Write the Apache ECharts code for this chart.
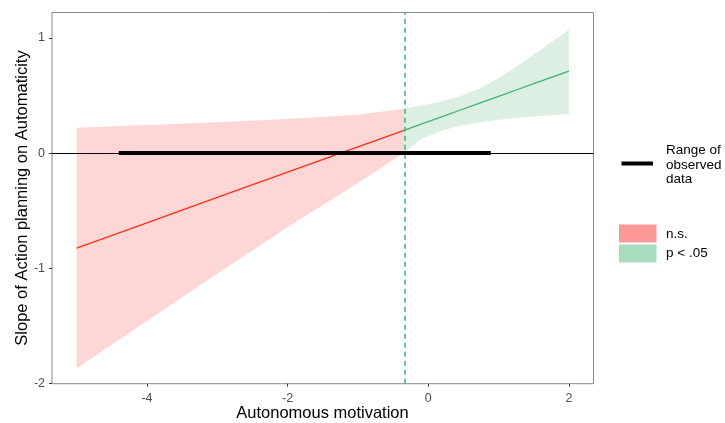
<!DOCTYPE html>
<html>
<head>
<meta charset="utf-8">
<script src="https://cdn.jsdelivr.net/npm/echarts@6/dist/echarts.min.js"></script>
<style>html,body{margin:0;padding:0;background:#fff}#c{width:725px;height:423px}</style>
</head>
<body>
<div id="c"></div>
<script>
// ---- data ----
const xTicks = [-4, -2, 0, 2];
const yTicks = [-2, -1, 0, 1];
const jnPoint = -0.345;               // Johnson-Neyman boundary
const observedRange = [-4.40, 0.89];  // range of observed moderator data

// non-significant region (x < jnPoint)
const nsX     = [-5, -4, -3, -2, -1, -0.345];
const nsEst   = [-0.826, -0.606, -0.386, -0.166, 0.054, 0.197];
const nsUpper = [0.22, 0.243, 0.268, 0.297, 0.333, 0.385];
const nsLower = [-1.87, -1.46, -1.05, -0.645, -0.26, 0.0];

// significant region (x > jnPoint)
const sigX     = [-0.345, -0.12, 0.16, 0.44, 0.73, 1.01, 1.29, 1.57, 2];
const sigEst   = [0.197, 0.247, 0.308, 0.37, 0.434, 0.495, 0.557, 0.618, 0.713];
const sigUpper = [0.385, 0.412, 0.444, 0.492, 0.562, 0.655, 0.765, 0.885, 1.072];
const sigLower = [0.0, 0.115, 0.188, 0.237, 0.266, 0.29, 0.307, 0.32, 0.339];

const xTitle = 'Autonomous motivation';
const yTitle = 'Slope of Action planning on Automaticity';
const legendLabels = ['n.s.', 'p < .05'];
const rangeLabel = 'Range of\nobserved\ndata';

// ---- styles ----
const RED = '#FF2E17', RED_BAND = '#FFD6D6', RED_KEY = '#FF9999';
const GREEN = '#3CB371', GREEN_BAND = '#DCEFE3', GREEN_KEY = '#A9DCBF';
const FONT = '"Liberation Sans", Arial, Helvetica, sans-serif';

function band(xs, up, lo, color) {
  return {
    type: 'custom',
    coordinateSystem: 'cartesian2d',
    silent: true,
    z: 1,
    data: [[xs[0], lo[0]]],
    renderItem: function (params, api) {
      const top = xs.map((x, i) => api.coord([x, up[i]]));
      const bot = xs.map((x, i) => api.coord([x, lo[i]])).reverse();
      return { type: 'polygon', shape: { points: top.concat(bot) }, style: { fill: color } };
    }
  };
}

const chart = echarts.init(document.getElementById('c'), null, { renderer: 'canvas' });
chart.setOption({
  animation: false,
  backgroundColor: '#fff',
  grid: {
    left: 52, right: 131.5, top: 12.5, bottom: 39.3,
    containLabel: false, outerBoundsMode: 'none',
    show: true, borderColor: '#8a8a8a', borderWidth: 1, backgroundColor: 'transparent'
  },
  xAxis: {
    type: 'value', min: -5.35, max: 2.35,
    axisLine: { show: false, onZero: false },
    splitLine: { show: false },
    axisTick: { show: true, length: 3, customValues: xTicks, lineStyle: { color: '#333' } },
    axisLabel: { customValues: xTicks, margin: 8, fontFamily: FONT, fontSize: 12.5, color: '#4D4D4D', formatter: v => String(v) }
  },
  yAxis: {
    type: 'value', min: -2.005, max: 1.222,
    axisLine: { show: false, onZero: false },
    splitLine: { show: false },
    axisTick: { show: true, length: 3, customValues: yTicks, lineStyle: { color: '#333' } },
    axisLabel: { customValues: yTicks, margin: 7, fontFamily: FONT, fontSize: 12.5, color: '#4D4D4D', formatter: v => String(v) }
  },
  series: [
    band(nsX, nsUpper, nsLower, RED_BAND),
    band(sigX, sigUpper, sigLower, GREEN_BAND),
    {
      type: 'line', data: nsX.map((x, i) => [x, nsEst[i]]), showSymbol: false, silent: true, z: 3,
      lineStyle: { color: RED, width: 1.3 }
    },
    {
      type: 'line', data: sigX.map((x, i) => [x, sigEst[i]]), showSymbol: false, silent: true, z: 3,
      lineStyle: { color: GREEN, width: 1.3 }
    },
    {
      type: 'line', data: [], silent: true, z: 4,
      markLine: {
        silent: true, symbol: 'none', label: { show: false }, animation: false,
        lineStyle: { color: '#000', width: 1.1, type: 'solid', opacity: 1 },
        data: [{ yAxis: 0 }]
      }
    },
    {
      type: 'line', data: observedRange.map(x => [x, 0]), showSymbol: false, silent: true, z: 5,
      lineStyle: { color: '#000', width: 4, cap: 'butt' }
    },
    {
      type: 'line', data: [], silent: true, z: 6,
      markLine: {
        silent: true, symbol: 'none', label: { show: false }, animation: false,
        lineStyle: { color: '#3CB371', width: 1.5, type: [5, 4], opacity: 1 },
        emphasis: { disabled: true },
        data: [{ xAxis: jnPoint }]
      }
    }
  ],
  graphic: [
    { type: 'text', x: 322.5, y: 413, style: { text: xTitle, font: '16.5px ' + FONT, fill: '#000', align: 'center', verticalAlign: 'middle' } },
    { type: 'text', x: 22, y: 198, rotation: Math.PI / 2, style: { text: yTitle, font: '16.5px ' + FONT, fill: '#000', align: 'center', verticalAlign: 'middle' } },
    { type: 'line', shape: { x1: 621.5, y1: 163.5, x2: 653, y2: 163.5 }, style: { stroke: '#000', lineWidth: 4 } },
    { type: 'text', left: 666, top: 143, style: { text: rangeLabel, font: '13.5px ' + FONT, fill: '#000', lineHeight: 14.7 } },
    { type: 'rect', shape: { x: 619, y: 224.5, width: 37.5, height: 18 }, style: { fill: RED_KEY } },
    { type: 'rect', shape: { x: 619, y: 244.5, width: 37.5, height: 18 }, style: { fill: GREEN_KEY } },
    { type: 'text', left: 666, top: 227, style: { text: legendLabels[0], font: '13.5px ' + FONT, fill: '#000' } },
    { type: 'text', left: 666, top: 246, style: { text: legendLabels[1], font: '13.5px ' + FONT, fill: '#000' } }
  ]
});
</script>
</body>
</html>
